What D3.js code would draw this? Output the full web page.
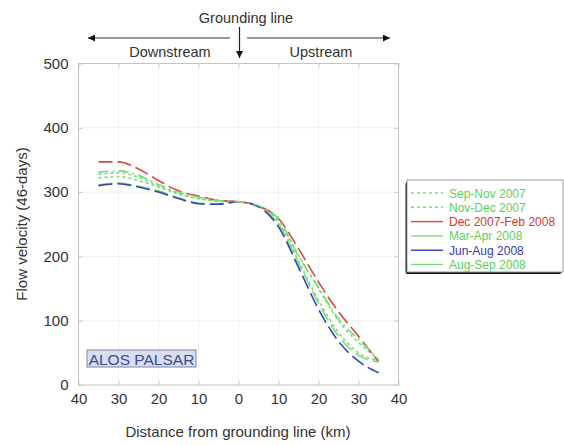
<!DOCTYPE html>
<html>
<head>
<meta charset="utf-8">
<script src="https://cdn.jsdelivr.net/npm/d3@7"></script>
<style>
  body { margin: 0; background: #fff; }
  text { font-family: "Liberation Sans", Arial, sans-serif; }
</style>
</head>
<body>
<div id="chart"></div>
<script>
// ---- data (negative = downstream of grounding line) ----
const distKm = [-35, -30, -25, -20, -15, -10, -5, 0, 5, 10, 15, 20, 25, 30, 35];
const sepNov2007 = [328, 330, 323, 310, 298, 290, 286, 285, 278, 252, 193, 132, 82, 50, 38];
const novDec2007 = [322, 324, 318, 308, 297, 290, 286, 285, 279, 256, 202, 150, 100, 66, 40];
const decFeb2008 = [347, 347, 336, 318, 302, 294, 287, 285, 278, 259, 212, 160, 114, 76, 36];
const marApr2008 = [311, 314, 309, 302, 291, 283, 282, 285, 278, 250, 190, 127, 76, 46, 36];
const junAug2008 = [310, 313, 308, 300, 290, 282, 281, 285, 277, 246, 183, 118, 68, 37, 19];
const augSep2008 = [331, 333, 326, 312, 300, 292, 287, 285, 279, 258, 200, 152, 103, 71, 40];

const seriesNames = ["Sep-Nov 2007", "Nov-Dec 2007", "Dec 2007-Feb 2008", "Mar-Apr 2008", "Jun-Aug 2008", "Aug-Sep 2008"];
const seriesValues = [sepNov2007, novDec2007, decFeb2008, marApr2008, junAug2008, augSep2008];
const seriesColors = ["#7ddb7d", "#7ddb7d", "#d9473d", "#7ddb7d", "#3340b8", "#7ddb7d"];
const textColors = ["#5ccf5c", "#5ccf5c", "#d03a34", "#5ccf5c", "#3340b0", "#5ccf5c"];
const seriesDash = ["3,3", "3,3", "14,5", "14,5", "14,5", "10,4,2,4"];

const xTicks = [-40, -30, -20, -10, 0, 10, 20, 30, 40];
const yTicks = [0, 100, 200, 300, 400, 500];

// ---- chart ----
const width = 564, height = 445;
const svg = d3.select("#chart").append("svg")
  .attr("width", width).attr("height", height);

const x = d3.scaleLinear().domain([-40, 40]).range([78.5, 398.5]);
const y = d3.scaleLinear().domain([0, 500]).range([385, 63.5]);

// grid
svg.append("g").selectAll("line").data(xTicks.slice(1, -1)).enter().append("line")
  .attr("x1", d => x(d)).attr("x2", d => x(d))
  .attr("y1", y(0)).attr("y2", y(500))
  .attr("stroke", "#f0f0f0");
svg.append("g").selectAll("line").data(yTicks.slice(1, -1)).enter().append("line")
  .attr("x1", x(-40)).attr("x2", x(40))
  .attr("y1", d => y(d)).attr("y2", d => y(d))
  .attr("stroke", "#f0f0f0");

// axes
const fmt = d => Math.abs(d);
svg.append("g").attr("transform", `translate(0,${y(0)})`)
  .call(d3.axisBottom(x).tickValues(xTicks).tickFormat(fmt).tickSize(-4).tickPadding(8))
  .call(g => g.select(".domain").remove());
svg.append("g").attr("transform", `translate(0,${y(500)})`)
  .call(d3.axisTop(x).tickValues(xTicks).tickFormat("").tickSize(-4))
  .call(g => g.select(".domain").remove());
svg.append("g").attr("transform", `translate(${x(-40)},0)`)
  .call(d3.axisLeft(y).tickValues(yTicks).tickSize(-4).tickPadding(10))
  .call(g => g.select(".domain").remove());
svg.append("g").attr("transform", `translate(${x(40)},0)`)
  .call(d3.axisRight(y).tickValues(yTicks).tickFormat("").tickSize(-4))
  .call(g => g.select(".domain").remove());

svg.selectAll(".tick line").attr("stroke", "#c8c8c8");
svg.selectAll(".tick text").attr("font-size", 15).attr("fill", "#333")
  .attr("font-family", "Liberation Sans, Arial, sans-serif");

svg.append("rect")
  .attr("x", x(-40)).attr("y", y(500))
  .attr("width", x(40) - x(-40)).attr("height", y(0) - y(500))
  .attr("fill", "none").attr("stroke", "#c4c4c4");

// lines
const line = d3.line()
  .x((d, i) => x(distKm[i]))
  .y(d => y(d))
  .curve(d3.curveMonotoneX);

svg.append("g").selectAll("path").data(seriesValues).enter().append("path")
  .attr("d", d => line(d))
  .attr("fill", "none")
  .attr("stroke", (d, i) => seriesColors[i])
  .attr("stroke-width", 1.6)
  .attr("stroke-dasharray", (d, i) => seriesDash[i]);

// ALOS PALSAR label
svg.append("rect").attr("x", 87).attr("y", 350).attr("width", 109).attr("height", 17)
  .attr("fill", "#dadded").attr("stroke", "#7f849c");
svg.append("text").attr("x", 141.5).attr("y", 364.5).attr("text-anchor", "middle")
  .attr("font-size", 15.5).attr("fill", "#3a4a9c").text("ALOS PALSAR");

// titles
svg.append("text").attr("x", 238).attr("y", 437).attr("text-anchor", "middle")
  .attr("font-size", 15).attr("fill", "#333").text("Distance from grounding line (km)");
svg.append("text").attr("transform", "translate(27,224) rotate(-90)")
  .attr("text-anchor", "middle").attr("font-size", 15).attr("fill", "#333")
  .text("Flow velocity (46-days)");

// grounding line annotation
const defs = svg.append("defs");
defs.append("marker").attr("id", "arr").attr("viewBox", "0 0 10 10")
  .attr("refX", 10).attr("refY", 5).attr("markerWidth", 7).attr("markerHeight", 7)
  .attr("markerUnits", "userSpaceOnUse").attr("orient", "auto")
  .append("path").attr("d", "M0,0 L10,5 L0,10 z").attr("fill", "#111");

svg.append("text").attr("x", 246).attr("y", 23).attr("text-anchor", "middle")
  .attr("font-size", 14.5).attr("fill", "#333").text("Grounding line");
svg.append("line").attr("x1", x(0) + 1).attr("x2", x(0) + 1).attr("y1", 27).attr("y2", 58)
  .attr("stroke", "#222").attr("stroke-width", 1.2).attr("marker-end", "url(#arr)");
svg.append("line").attr("x1", 230).attr("x2", 88).attr("y1", 38).attr("y2", 38)
  .attr("stroke", "#333").attr("marker-end", "url(#arr)");
svg.append("line").attr("x1", 247).attr("x2", 390).attr("y1", 38).attr("y2", 38)
  .attr("stroke", "#333").attr("marker-end", "url(#arr)");
svg.append("text").attr("x", 170).attr("y", 57).attr("text-anchor", "middle")
  .attr("font-size", 14.5).attr("fill", "#333").text("Downstream");
svg.append("text").attr("x", 321).attr("y", 57).attr("text-anchor", "middle")
  .attr("font-size", 14.5).attr("fill", "#333").text("Upstream");

// legend
const lg = svg.append("g").attr("transform", "translate(407,180)");
lg.append("rect").attr("x", -1.5).attr("y", 2).attr("width", 156).attr("height", 92)
  .attr("fill", "#111").attr("rx", 2);
lg.append("rect").attr("x", 0).attr("y", 0).attr("width", 156).attr("height", 92)
  .attr("fill", "#fff").attr("stroke", "#9a9a9a");
const items = lg.selectAll("g.item").data(seriesNames).enter().append("g")
  .attr("class", "item")
  .attr("transform", (d, i) => `translate(0,${13 + i * 14.3})`);
items.append("line").attr("x1", 4).attr("x2", 36).attr("y1", 0).attr("y2", 0)
  .attr("stroke", (d, i) => seriesColors[i]).attr("stroke-width", 1.4)
  .attr("stroke-dasharray", (d, i) => i < 2 ? "3,3" : null);
items.append("text").attr("x", 42).attr("y", 4.5).attr("font-size", 12)
  .attr("fill", (d, i) => textColors[i]).text(d => d);
</script>
</body>
</html>
